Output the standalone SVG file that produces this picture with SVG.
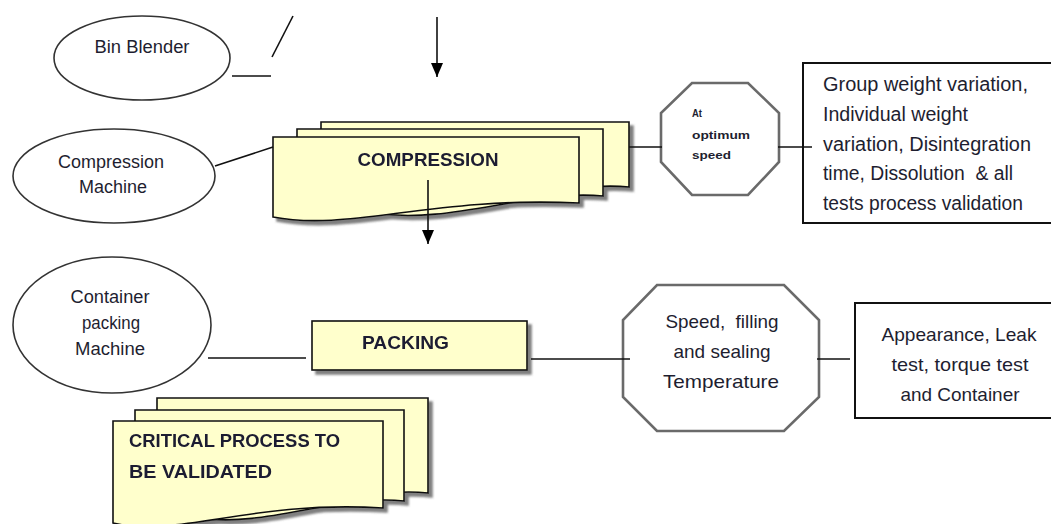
<svg xmlns="http://www.w3.org/2000/svg" width="1051" height="524" viewBox="0 0 1051 524">
<defs>
<filter id="sh" x="-10%" y="-10%" width="130%" height="140%">
<feDropShadow dx="4" dy="4" stdDeviation="1.2" flood-color="#555" flood-opacity="0.75"/>
</filter>
<marker id="ah" viewBox="0 0 14 12" refX="14" refY="6" markerWidth="14" markerHeight="12" markerUnits="userSpaceOnUse" orient="auto">
<path d="M0,0 L14,6 L0,12 Z" fill="#000"/>
</marker>
</defs>
<style>
.ell{fill:#fff;stroke:#333;stroke-width:1.6}
.sheet{fill:#ffffcc;stroke:#111;stroke-width:1.6}
.oct{fill:#fff;stroke:#6a6a6a;stroke-width:2.6}
.box{fill:#fff;stroke:#111;stroke-width:2}
.ln{stroke:#111;stroke-width:1.6;fill:none}
.t{font-family:"Liberation Sans",Arial,sans-serif;fill:#1e1e30}
.c{text-anchor:middle}
.b{font-weight:bold}
</style>
<rect width="1051" height="524" fill="#fff"/>

<g id="bin-blender">
<ellipse class="ell" cx="142" cy="58" rx="88" ry="42"/>
<text class="t c" x="142" y="53" font-size="17.5" textLength="95" lengthAdjust="spacingAndGlyphs">Bin Blender</text>
</g>

<g id="compression-machine">
<ellipse class="ell" cx="114" cy="176" rx="101" ry="47"/>
<text class="t c" x="111" y="168" font-size="17.5" textLength="106" lengthAdjust="spacingAndGlyphs">Compression</text>
<text class="t c" x="113" y="193" font-size="17.5" textLength="68" lengthAdjust="spacingAndGlyphs">Machine</text>
</g>

<g id="compression" filter="url(#sh)">
<path class="sheet" d="M321,122 L629,122 L629,187 C560,180 480,216 400,204 L321,196 Z"/>
<path class="sheet" d="M297,129 L603,129 L603,196 C530,189 450,225 375,213 L297,205 Z"/>
<path class="sheet" d="M273,137 L579,137 L579,203 C430,196 350,232 273,217 Z"/>
<text class="t c b" x="428" y="166" font-size="18.5" textLength="141" lengthAdjust="spacingAndGlyphs">COMPRESSION</text>
</g>

<g id="optimum-speed">
<polygon class="oct" points="692,83 748,83 779,113 779,162 748,195 692,195 661,162 661,113"/>
<text class="t b" x="692" y="117" font-size="11.5" textLength="10" lengthAdjust="spacingAndGlyphs">At</text>
<text class="t b" x="692" y="139" font-size="11.5" textLength="58" lengthAdjust="spacingAndGlyphs">optimum</text>
<text class="t b" x="692" y="159" font-size="11.5" textLength="39" lengthAdjust="spacingAndGlyphs">speed</text>
</g>

<g id="compression-tests">
<rect class="box" x="803" y="63" width="260" height="160"/>
<text class="t" x="823" y="91" font-size="19.5" textLength="205" lengthAdjust="spacingAndGlyphs">Group weight variation,</text>
<text class="t" x="823" y="121" font-size="19.5" textLength="145" lengthAdjust="spacingAndGlyphs">Individual weight</text>
<text class="t" x="823" y="151" font-size="19.5" textLength="208" lengthAdjust="spacingAndGlyphs">variation, Disintegration</text>
<text class="t" x="823" y="180" font-size="19.5" textLength="190" lengthAdjust="spacingAndGlyphs" xml:space="preserve">time, Dissolution  &amp; all</text>
<text class="t" x="823" y="210" font-size="19.5" textLength="200" lengthAdjust="spacingAndGlyphs">tests process validation</text>
</g>

<g id="container-packing-machine">
<ellipse class="ell" cx="112" cy="325" rx="99" ry="68"/>
<text class="t c" x="110" y="303" font-size="17.5" textLength="79" lengthAdjust="spacingAndGlyphs">Container</text>
<text class="t c" x="111" y="329" font-size="17.5" textLength="58" lengthAdjust="spacingAndGlyphs">packing</text>
<text class="t c" x="110" y="355" font-size="17.5" textLength="70" lengthAdjust="spacingAndGlyphs">Machine</text>
</g>

<g id="packing" filter="url(#sh)">
<rect class="sheet" x="312" y="321" width="215" height="49"/>
<text class="t b" x="362" y="349" font-size="18.5" textLength="87" lengthAdjust="spacingAndGlyphs">PACKING</text>
</g>

<g id="speed-filling">
<polygon class="oct" points="657,285 784,285 819,320 819,397 784,431 657,431 623,397 623,320"/>
<text class="t c" x="722" y="328" font-size="18.5" textLength="113" lengthAdjust="spacingAndGlyphs" xml:space="preserve">Speed,  filling</text>
<text class="t c" x="722" y="358" font-size="18.5" textLength="97" lengthAdjust="spacingAndGlyphs">and sealing</text>
<text class="t c" x="721" y="388" font-size="18.5" textLength="116" lengthAdjust="spacingAndGlyphs">Temperature</text>
</g>

<g id="packing-tests">
<rect class="box" x="855" y="303" width="210" height="115"/>
<text class="t c" x="959" y="341" font-size="18.5" textLength="155" lengthAdjust="spacingAndGlyphs">Appearance, Leak</text>
<text class="t c" x="960" y="371" font-size="18.5" textLength="137" lengthAdjust="spacingAndGlyphs">test, torque test</text>
<text class="t c" x="960" y="401" font-size="18.5" textLength="119" lengthAdjust="spacingAndGlyphs">and Container</text>
</g>

<g id="critical-process" filter="url(#sh)">
<path class="sheet" d="M157,398 L428,398 L428,493 C360,486 290,520 225,510 L157,502 Z"/>
<path class="sheet" d="M135,410 L404,410 L404,501 C336,494 266,528 200,518 L135,512 Z"/>
<path class="sheet" d="M113,421 L383,421 L383,508 C250,500 180,538 113,523 Z"/>
<text class="t b" x="129" y="447" font-size="18" textLength="211" lengthAdjust="spacingAndGlyphs">CRITICAL PROCESS TO</text>
<text class="t b" x="129" y="478" font-size="18" textLength="143" lengthAdjust="spacingAndGlyphs">BE VALIDATED</text>
</g>

<g id="connectors">
<line class="ln" x1="232" y1="76" x2="271" y2="76"/>
<line class="ln" x1="272" y1="57" x2="293" y2="16"/>
<line class="ln" x1="215" y1="166" x2="273" y2="147"/>
<line class="ln" x1="629" y1="147" x2="662" y2="147"/>
<line class="ln" x1="778" y1="147" x2="812" y2="147"/>
<line class="ln" x1="208" y1="358" x2="306" y2="358"/>
<line class="ln" x1="531" y1="359" x2="630" y2="359"/>
<line class="ln" x1="817" y1="359" x2="850" y2="359"/>
<line class="ln" x1="437" y1="17" x2="437" y2="77" marker-end="url(#ah)"/>
<line class="ln" x1="428" y1="180" x2="428" y2="244" marker-end="url(#ah)"/>
</g>
</svg>
